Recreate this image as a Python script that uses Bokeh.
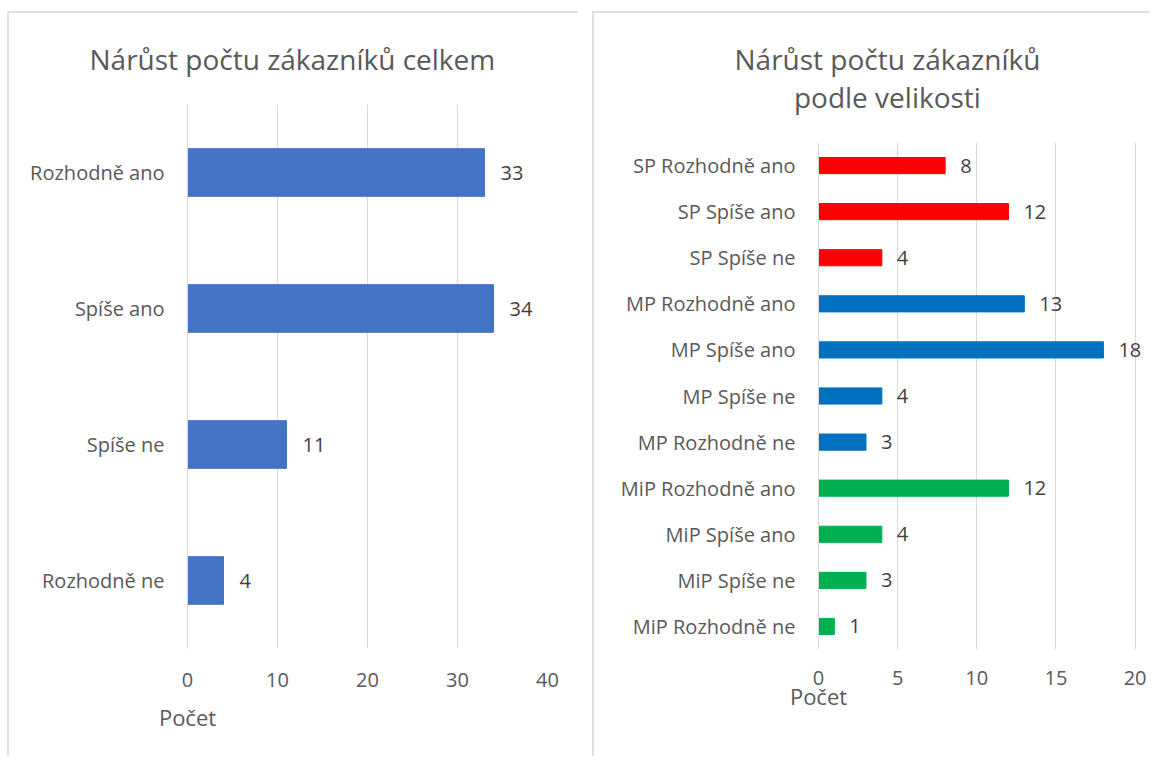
from bokeh.plotting import figure
from bokeh.models import ColumnDataSource, FactorRange, Range1d, LabelSet, Title, FixedTicker
from bokeh.embed import file_html
from bokeh.resources import INLINE
from bokeh.core.properties import value

# ---- data ----
left_title = "Nárůst počtu zákazníků celkem"
left_categories = ["Rozhodně ano", "Spíše ano", "Spíše ne", "Rozhodně ne"]
left_values = [33, 34, 11, 4]
left_ticks = [0, 10, 20, 30, 40]

right_title = "Nárůst počtu zákazníků\npodle velikosti"
right_categories = ["SP Rozhodně ano", "SP Spíše ano", "SP Spíše ne",
                    "MP Rozhodně ano", "MP Spíše ano", "MP Spíše ne", "MP Rozhodně ne",
                    "MiP Rozhodně ano", "MiP Spíše ano", "MiP Spíše ne", "MiP Rozhodně ne"]
right_values = [8, 12, 4, 13, 18, 4, 3, 12, 4, 3, 1]
right_groups = ["SP", "SP", "SP", "MP", "MP", "MP", "MP", "MiP", "MiP", "MiP", "MiP"]
right_ticks = [0, 5, 10, 15, 20]
axis_title = "Počet"

group_colors = {"SP": "#FF0000", "MP": "#0070C0", "MiP": "#00B050"}
FONT = "Open Sans"
TXT = "#595959"
GRID = "#D9D9D9"
PANEL_BORDER = "2px solid #E0E0E0"


def style(p):
    p.outline_line_color = None
    p.ygrid.grid_line_color = None
    p.xgrid.grid_line_color = GRID
    p.xgrid.grid_line_width = 1
    for ax in (p.xaxis[0], p.yaxis[0]):
        ax.major_tick_line_color = None
        ax.minor_tick_line_color = None
        ax.major_label_text_font = FONT
        ax.major_label_text_color = TXT
        ax.major_label_text_font_size = "20px"
        ax.axis_label_text_font = FONT
        ax.axis_label_text_color = TXT
        ax.axis_label_text_font_size = "22px"
        ax.axis_label_text_font_style = "normal"
    p.xaxis[0].axis_line_color = None
    p.yaxis[0].axis_line_color = GRID
    p.yaxis[0].major_label_standoff = 17
    if "axis_label_align" in p.xaxis[0].properties():
        p.xaxis[0].axis_label_align = "start"


def make_title(text, offset, standoff):
    t = Title(text=text, align="left", offset=offset, vertical_align="middle",
              text_font=FONT, text_font_size="28px", text_font_style="normal",
              text_color=TXT, standoff=standoff, text_line_height=1.0)
    if "text_align" in t.properties():
        t.text_align = "center"
    return t


# ---- left chart ----
src_l = ColumnDataSource(dict(cat=left_categories, val=left_values,
                              lbl=[str(v) for v in left_values]))
p1 = figure(width=571, height=745, output_backend="svg", toolbar_location=None,
            y_range=FactorRange(factors=left_categories[::-1]),
            x_range=Range1d(0, 40),
            min_border_left=178, min_border_right=33, min_border_top=91, min_border_bottom=110)
p1.hbar(y="cat", right="val", height=0.35, source=src_l, color="#4472C4")
p1.add_layout(LabelSet(x="val", y="cat", text="lbl", source=src_l, x_offset=16,
                       text_baseline="middle", text_font=value(FONT),
                       text_font_size="20px", text_color="#404040"))
p1.xaxis[0].ticker = FixedTicker(ticks=left_ticks)
p1.xaxis[0].axis_label = axis_title
style(p1)
p1.xaxis[0].major_label_standoff = 18
p1.xaxis[0].axis_label_standoff = 12
p1.add_layout(make_title(left_title, -98, 51), "above")
p1.styles = {"position": "absolute", "left": "7px", "top": "11px",
             "border-top": PANEL_BORDER, "border-left": PANEL_BORDER}

# ---- right chart ----
src_r = ColumnDataSource(dict(cat=right_categories, val=right_values,
                              lbl=[str(v) for v in right_values],
                              col=[group_colors[g] for g in right_groups]))
p2 = figure(width=558, height=745, output_backend="svg", toolbar_location=None,
            y_range=FactorRange(factors=right_categories[::-1]),
            x_range=Range1d(0, 21.1),
            min_border_left=224, min_border_right=0, min_border_top=129, min_border_bottom=109)
p2.hbar(y="cat", right="val", height=0.35, source=src_r, color="col")
p2.add_layout(LabelSet(x="val", y="cat", text="lbl", source=src_r, x_offset=15,
                       text_baseline="middle", text_font=value(FONT),
                       text_font_size="20px", text_color="#404040"))
p2.xaxis[0].ticker = FixedTicker(ticks=right_ticks)
p2.xaxis[0].axis_label = axis_title
style(p2)
p2.xaxis[0].major_label_standoff = 15
p2.xaxis[0].axis_label_standoff = -7
p2.add_layout(make_title(right_title, -84, 51), "above")
p2.styles = {"position": "absolute", "left": "592px", "top": "11px",
             "border-top": PANEL_BORDER, "border-left": PANEL_BORDER}

open("out.html", "w").write(file_html([p1, p2], INLINE))
